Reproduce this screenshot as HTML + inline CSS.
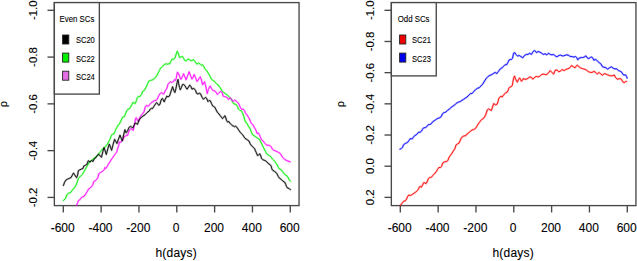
<!DOCTYPE html>
<html><head><meta charset="utf-8"><style>
html,body{margin:0;padding:0;background:#fff;width:637px;height:261px;overflow:hidden}
svg{display:block}
.t{font-family:"Liberation Sans",sans-serif;font-size:12px;fill:#000;stroke:#000;stroke-width:0.1px}
.l{font-family:"Liberation Sans",sans-serif;font-size:8.6px;fill:#000;stroke:#000;stroke-width:0.1px}
</style></head><body>
<svg width="637" height="261" viewBox="0 0 637 261">
<rect width="637" height="261" fill="#fff"/>
<rect x="54.35" y="2.6" width="244.7" height="203.0" fill="none" stroke="#484848" stroke-width="1.35"/>
<line x1="47.5" y1="10.3" x2="54.35" y2="10.3" stroke="#484848" stroke-width="1.35"/>
<text class="t" style="font-size:11.4px" x="0" y="0" transform="translate(37.4,10.30) rotate(-90)" text-anchor="middle">-1.0</text>
<line x1="47.5" y1="57.08" x2="54.35" y2="57.08" stroke="#484848" stroke-width="1.35"/>
<text class="t" style="font-size:11.4px" x="0" y="0" transform="translate(37.4,57.08) rotate(-90)" text-anchor="middle">-0.8</text>
<line x1="47.5" y1="103.86" x2="54.35" y2="103.86" stroke="#484848" stroke-width="1.35"/>
<text class="t" style="font-size:11.4px" x="0" y="0" transform="translate(37.4,103.86) rotate(-90)" text-anchor="middle">-0.6</text>
<line x1="47.5" y1="150.64000000000001" x2="54.35" y2="150.64000000000001" stroke="#484848" stroke-width="1.35"/>
<text class="t" style="font-size:11.4px" x="0" y="0" transform="translate(37.4,150.64) rotate(-90)" text-anchor="middle">-0.4</text>
<line x1="47.5" y1="197.42000000000002" x2="54.35" y2="197.42000000000002" stroke="#484848" stroke-width="1.35"/>
<text class="t" style="font-size:11.4px" x="0" y="0" transform="translate(37.4,197.42) rotate(-90)" text-anchor="middle">-0.2</text>
<line x1="63.30" y1="205.6" x2="63.30" y2="212.5" stroke="#484848" stroke-width="1.35"/>
<text class="t" x="62.70" y="231.5" text-anchor="middle">-600</text>
<line x1="101.13" y1="205.6" x2="101.13" y2="212.5" stroke="#484848" stroke-width="1.35"/>
<text class="t" x="100.53" y="231.5" text-anchor="middle">-400</text>
<line x1="138.96" y1="205.6" x2="138.96" y2="212.5" stroke="#484848" stroke-width="1.35"/>
<text class="t" x="138.36" y="231.5" text-anchor="middle">-200</text>
<line x1="176.79" y1="205.6" x2="176.79" y2="212.5" stroke="#484848" stroke-width="1.35"/>
<text class="t" x="176.19" y="231.5" text-anchor="middle">0</text>
<line x1="214.62" y1="205.6" x2="214.62" y2="212.5" stroke="#484848" stroke-width="1.35"/>
<text class="t" x="214.02" y="231.5" text-anchor="middle">200</text>
<line x1="252.45" y1="205.6" x2="252.45" y2="212.5" stroke="#484848" stroke-width="1.35"/>
<text class="t" x="251.85" y="231.5" text-anchor="middle">400</text>
<line x1="290.28" y1="205.6" x2="290.28" y2="212.5" stroke="#484848" stroke-width="1.35"/>
<text class="t" x="289.68" y="231.5" text-anchor="middle">600</text>
<text class="t" style="font-size:11px" transform="translate(7.2,104.0) rotate(-90)" text-anchor="middle">&#961;</text>
<text class="t" style="letter-spacing:0.2px" x="176.2" y="257.2" text-anchor="middle">h(days)</text>
<g>
<path d="M63.4,200.5 L65.4,198.6 L66.9,194.8 L68.4,193.3 L70.7,192.5 L72.3,190.1 L74.5,187.7 L76.1,185.0 L77.2,182.0 L78.4,178.5 L79.9,176.9 L82.2,174.6 L83.7,172.3 L85.3,169.3 L86.8,166.5 L88.3,164.0 L90.0,161.5 L91.5,160.5 L93.8,158.4 L96.1,156.8 L98.2,154.8 L100.5,151.5 L102.6,149.0 L104.9,147.4 L107.2,144.3 L110.0,139.3 L111.1,136.3 L112.3,134.3 L113.8,134.0 L115.0,131.7 L115.7,129.4 L116.9,127.4 L118.0,125.1 L119.2,124.4 L121.9,118.8 L122.6,117.3 L124.3,116.7 L125.5,113.9 L126.6,111.0 L127.8,109.3 L129.5,108.7 L130.6,107.0 L131.8,104.7 L132.9,102.4 L134.0,103.0 L135.2,103.5 L136.4,100.6 L137.0,98.3 L138.1,96.6 L139.8,96.6 L141.6,94.3 L142.7,91.4 L144.4,90.3 L146.1,87.3 L147.3,84.4 L149.0,81.0 L150.7,80.4 L152.5,79.8 L154.2,78.7 L155.9,77.0 L157.1,75.2 L158.2,72.9 L159.4,70.6 L160.5,68.3 L162.2,66.6 L164.0,64.9 L165.7,63.7 L167.4,64.3 L168.0,63.8 L169.7,63.8 L170.9,61.5 L172.0,59.2 L173.7,59.2 L174.9,58.1 L176.0,54.6 L177.2,51.2 L178.3,53.5 L179.5,57.5 L181.2,56.9 L182.4,56.4 L183.5,58.1 L184.7,60.4 L185.8,61.0 L187.0,59.8 L188.7,59.2 L190.0,60.2 L191.7,60.7 L193.4,59.6 L195.2,61.9 L196.9,64.2 L198.6,63.0 L200.3,64.2 L201.5,65.3 L202.6,64.8 L203.8,66.5 L204.9,68.8 L206.7,70.5 L208.4,73.4 L210.1,76.3 L211.3,79.1 L212.2,79.8 L213.3,80.6 L214.5,81.4 L215.6,82.9 L216.8,84.0 L218.2,85.0 L220.3,88.0 L222.1,90.9 L223.8,92.6 L225.5,93.8 L227.2,94.9 L229.0,96.7 L230.0,97.7 L231.1,98.9 L232.3,101.2 L233.4,103.5 L234.6,104.0 L236.3,104.6 L237.5,106.9 L238.6,109.2 L239.8,110.4 L241.5,110.9 L242.6,113.2 L243.8,116.1 L245.0,120.9 L246.7,123.2 L248.4,126.0 L250.2,128.9 L251.3,131.8 L252.5,134.7 L254.2,135.8 L255.9,137.0 L257.6,138.1 L259.4,139.3 L260.9,142.3 L262.1,144.6 L263.2,146.9 L264.4,149.2 L265.5,151.5 L266.7,153.8 L267.8,154.9 L269.5,155.5 L271.3,157.2 L272.4,159.0 L273.6,160.1 L274.7,161.3 L275.9,163.0 L277.2,165.0 L278.3,167.3 L279.5,169.0 L281.2,169.6 L282.4,171.3 L283.5,173.0 L285.2,174.8 L287.0,175.9 L288.1,177.6 L289.3,179.9 L290.4,181.1" fill="none" stroke="#00ee00" stroke-opacity="0.3" stroke-width="2.0" stroke-linejoin="round" stroke-linecap="round"/>
<path d="M63.4,200.5 L65.4,198.6 L66.9,194.8 L68.4,193.3 L70.7,192.5 L72.3,190.1 L74.5,187.7 L76.1,185.0 L77.2,182.0 L78.4,178.5 L79.9,176.9 L82.2,174.6 L83.7,172.3 L85.3,169.3 L86.8,166.5 L88.3,164.0 L90.0,161.5 L91.5,160.5 L93.8,158.4 L96.1,156.8 L98.2,154.8 L100.5,151.5 L102.6,149.0 L104.9,147.4 L107.2,144.3 L110.0,139.3 L111.1,136.3 L112.3,134.3 L113.8,134.0 L115.0,131.7 L115.7,129.4 L116.9,127.4 L118.0,125.1 L119.2,124.4 L121.9,118.8 L122.6,117.3 L124.3,116.7 L125.5,113.9 L126.6,111.0 L127.8,109.3 L129.5,108.7 L130.6,107.0 L131.8,104.7 L132.9,102.4 L134.0,103.0 L135.2,103.5 L136.4,100.6 L137.0,98.3 L138.1,96.6 L139.8,96.6 L141.6,94.3 L142.7,91.4 L144.4,90.3 L146.1,87.3 L147.3,84.4 L149.0,81.0 L150.7,80.4 L152.5,79.8 L154.2,78.7 L155.9,77.0 L157.1,75.2 L158.2,72.9 L159.4,70.6 L160.5,68.3 L162.2,66.6 L164.0,64.9 L165.7,63.7 L167.4,64.3 L168.0,63.8 L169.7,63.8 L170.9,61.5 L172.0,59.2 L173.7,59.2 L174.9,58.1 L176.0,54.6 L177.2,51.2 L178.3,53.5 L179.5,57.5 L181.2,56.9 L182.4,56.4 L183.5,58.1 L184.7,60.4 L185.8,61.0 L187.0,59.8 L188.7,59.2 L190.0,60.2 L191.7,60.7 L193.4,59.6 L195.2,61.9 L196.9,64.2 L198.6,63.0 L200.3,64.2 L201.5,65.3 L202.6,64.8 L203.8,66.5 L204.9,68.8 L206.7,70.5 L208.4,73.4 L210.1,76.3 L211.3,79.1 L212.2,79.8 L213.3,80.6 L214.5,81.4 L215.6,82.9 L216.8,84.0 L218.2,85.0 L220.3,88.0 L222.1,90.9 L223.8,92.6 L225.5,93.8 L227.2,94.9 L229.0,96.7 L230.0,97.7 L231.1,98.9 L232.3,101.2 L233.4,103.5 L234.6,104.0 L236.3,104.6 L237.5,106.9 L238.6,109.2 L239.8,110.4 L241.5,110.9 L242.6,113.2 L243.8,116.1 L245.0,120.9 L246.7,123.2 L248.4,126.0 L250.2,128.9 L251.3,131.8 L252.5,134.7 L254.2,135.8 L255.9,137.0 L257.6,138.1 L259.4,139.3 L260.9,142.3 L262.1,144.6 L263.2,146.9 L264.4,149.2 L265.5,151.5 L266.7,153.8 L267.8,154.9 L269.5,155.5 L271.3,157.2 L272.4,159.0 L273.6,160.1 L274.7,161.3 L275.9,163.0 L277.2,165.0 L278.3,167.3 L279.5,169.0 L281.2,169.6 L282.4,171.3 L283.5,173.0 L285.2,174.8 L287.0,175.9 L288.1,177.6 L289.3,179.9 L290.4,181.1" fill="none" stroke="#00ee00" stroke-opacity="0.85" stroke-width="1.0" stroke-linejoin="round" stroke-linecap="round"/>
<path d="M76.6,205.2 L77.6,202.8 L78.4,200.6 L79.8,199.8 L81.3,197.7 L82.7,196.9 L84.2,196.2 L85.6,194.0 L87.1,191.8 L88.6,188.9 L90.0,188.2 L91.5,186.7 L92.9,184.6 L93.7,181.6 L95.1,180.9 L96.6,179.5 L98.0,177.3 L98.8,173.7 L100.8,172.3 L102.9,171.0 L104.3,169.6 L104.9,167.5 L105.8,168.5 L107.0,166.8 L108.4,164.1 L109.8,162.0 L111.1,159.9 L112.5,157.9 L113.9,155.8 L115.3,153.8 L116.6,152.4 L117.3,149.6 L118.0,147.6 L118.7,145.5 L119.2,142.0 L120.7,142.4 L121.9,140.5 L123.0,139.7 L124.2,136.6 L125.3,136.3 L126.5,135.1 L127.6,135.5 L128.8,131.7 L129.8,130.0 L131.0,128.5 L132.2,129.5 L133.3,130.4 L134.2,126.0 L134.8,122.7 L135.6,118.5 L136.3,117.7 L137.5,120.4 L138.3,121.2 L139.4,118.5 L140.6,116.2 L141.7,114.7 L142.9,113.1 L144.0,112.0 L145.2,107.0 L146.9,105.2 L148.0,106.4 L149.2,105.2 L150.5,103.5 L151.5,102.6 L153.1,101.5 L154.6,100.7 L156.1,100.3 L157.3,99.2 L158.0,97.3 L158.8,95.7 L160.0,93.8 L161.1,92.7 L162.3,93.1 L163.4,94.2 L164.2,93.1 L164.9,91.5 L165.7,90.0 L167.0,88.0 L168.0,84.2 L169.5,82.7 L170.3,81.7 L171.5,82.5 L172.6,82.1 L173.7,81.0 L174.5,79.6 L175.4,80.5 L176.2,78.3 L177.4,72.1 L178.5,73.5 L179.7,76.7 L180.8,79.4 L182.0,77.5 L183.6,73.7 L184.8,76.7 L186.1,79.8 L187.5,76.0 L189.2,71.7 L190.4,75.2 L191.9,79.1 L193.1,77.2 L194.2,74.5 L195.4,77.2 L196.9,81.4 L198.0,80.6 L199.1,78.3 L200.3,76.8 L201.4,79.8 L202.6,84.8 L203.7,82.9 L204.5,81.7 L205.7,86.0 L207.2,93.6 L208.3,89.8 L209.5,86.7 L210.3,86.0 L211.4,88.3 L212.6,90.2 L213.7,90.6 L214.9,91.0 L216.0,92.1 L217.2,94.4 L218.3,93.5 L219.2,92.6 L220.9,91.5 L222.1,92.6 L223.2,96.1 L224.9,96.7 L226.7,97.2 L228.4,99.5 L230.0,97.8 L231.5,99.2 L232.5,101.0 L233.4,101.2 L234.6,100.0 L236.3,101.2 L238.0,102.9 L239.2,104.6 L240.3,107.5 L241.5,109.2 L243.2,109.2 L244.4,110.4 L245.5,113.2 L247.2,115.0 L248.4,117.3 L249.0,118.0 L250.2,120.9 L251.3,123.2 L253.0,124.9 L254.2,127.2 L255.9,130.1 L257.1,133.5 L258.2,132.9 L259.4,134.7 L260.5,137.5 L261.7,139.8 L263.2,141.1 L264.9,143.4 L266.7,145.2 L268.4,145.2 L270.1,145.7 L271.3,146.9 L272.4,149.2 L273.6,150.3 L275.3,150.9 L277.0,151.5 L278.7,152.6 L280.0,153.2 L282.5,157.2 L284.8,159.5 L287.1,160.7 L290.1,161.8" fill="none" stroke="#ff00ff" stroke-opacity="0.3" stroke-width="2.0" stroke-linejoin="round" stroke-linecap="round"/>
<path d="M76.6,205.2 L77.6,202.8 L78.4,200.6 L79.8,199.8 L81.3,197.7 L82.7,196.9 L84.2,196.2 L85.6,194.0 L87.1,191.8 L88.6,188.9 L90.0,188.2 L91.5,186.7 L92.9,184.6 L93.7,181.6 L95.1,180.9 L96.6,179.5 L98.0,177.3 L98.8,173.7 L100.8,172.3 L102.9,171.0 L104.3,169.6 L104.9,167.5 L105.8,168.5 L107.0,166.8 L108.4,164.1 L109.8,162.0 L111.1,159.9 L112.5,157.9 L113.9,155.8 L115.3,153.8 L116.6,152.4 L117.3,149.6 L118.0,147.6 L118.7,145.5 L119.2,142.0 L120.7,142.4 L121.9,140.5 L123.0,139.7 L124.2,136.6 L125.3,136.3 L126.5,135.1 L127.6,135.5 L128.8,131.7 L129.8,130.0 L131.0,128.5 L132.2,129.5 L133.3,130.4 L134.2,126.0 L134.8,122.7 L135.6,118.5 L136.3,117.7 L137.5,120.4 L138.3,121.2 L139.4,118.5 L140.6,116.2 L141.7,114.7 L142.9,113.1 L144.0,112.0 L145.2,107.0 L146.9,105.2 L148.0,106.4 L149.2,105.2 L150.5,103.5 L151.5,102.6 L153.1,101.5 L154.6,100.7 L156.1,100.3 L157.3,99.2 L158.0,97.3 L158.8,95.7 L160.0,93.8 L161.1,92.7 L162.3,93.1 L163.4,94.2 L164.2,93.1 L164.9,91.5 L165.7,90.0 L167.0,88.0 L168.0,84.2 L169.5,82.7 L170.3,81.7 L171.5,82.5 L172.6,82.1 L173.7,81.0 L174.5,79.6 L175.4,80.5 L176.2,78.3 L177.4,72.1 L178.5,73.5 L179.7,76.7 L180.8,79.4 L182.0,77.5 L183.6,73.7 L184.8,76.7 L186.1,79.8 L187.5,76.0 L189.2,71.7 L190.4,75.2 L191.9,79.1 L193.1,77.2 L194.2,74.5 L195.4,77.2 L196.9,81.4 L198.0,80.6 L199.1,78.3 L200.3,76.8 L201.4,79.8 L202.6,84.8 L203.7,82.9 L204.5,81.7 L205.7,86.0 L207.2,93.6 L208.3,89.8 L209.5,86.7 L210.3,86.0 L211.4,88.3 L212.6,90.2 L213.7,90.6 L214.9,91.0 L216.0,92.1 L217.2,94.4 L218.3,93.5 L219.2,92.6 L220.9,91.5 L222.1,92.6 L223.2,96.1 L224.9,96.7 L226.7,97.2 L228.4,99.5 L230.0,97.8 L231.5,99.2 L232.5,101.0 L233.4,101.2 L234.6,100.0 L236.3,101.2 L238.0,102.9 L239.2,104.6 L240.3,107.5 L241.5,109.2 L243.2,109.2 L244.4,110.4 L245.5,113.2 L247.2,115.0 L248.4,117.3 L249.0,118.0 L250.2,120.9 L251.3,123.2 L253.0,124.9 L254.2,127.2 L255.9,130.1 L257.1,133.5 L258.2,132.9 L259.4,134.7 L260.5,137.5 L261.7,139.8 L263.2,141.1 L264.9,143.4 L266.7,145.2 L268.4,145.2 L270.1,145.7 L271.3,146.9 L272.4,149.2 L273.6,150.3 L275.3,150.9 L277.0,151.5 L278.7,152.6 L280.0,153.2 L282.5,157.2 L284.8,159.5 L287.1,160.7 L290.1,161.8" fill="none" stroke="#ff00ff" stroke-opacity="0.85" stroke-width="1.0" stroke-linejoin="round" stroke-linecap="round"/>
<path d="M63.4,185.5 L64.6,182.2 L66.1,179.9 L67.7,179.1 L69.2,178.3 L70.7,177.9 L72.3,175.3 L73.5,173.0 L74.5,174.5 L76.5,177.6 L77.6,175.3 L78.4,170.7 L79.6,169.9 L81.4,169.1 L83.0,168.4 L83.7,166.1 L85.3,165.3 L86.8,164.5 L88.3,160.7 L90.0,162.0 L91.5,160.5 L93.0,161.5 L94.5,158.5 L96.0,157.5 L97.3,155.5 L98.6,154.1 L100.0,155.8 L101.5,157.2 L102.8,151.8 L104.0,147.6 L105.2,151.0 L106.3,154.5 L107.8,148.8 L109.3,144.1 L110.5,147.2 L111.6,150.3 L113.1,144.5 L114.6,139.3 L115.8,141.5 L116.9,143.5 L118.5,139.0 L120.0,135.1 L121.2,138.3 L122.3,141.0 L123.6,135.0 L124.9,129.7 L126.1,132.8 L127.5,131.0 L129.1,127.3 L130.6,126.2 L131.7,127.3 L132.9,127.7 L134.0,125.4 L135.2,123.1 L136.3,123.5 L137.5,124.3 L138.3,122.0 L139.4,119.7 L140.6,118.1 L141.7,117.0 L142.9,116.2 L144.0,115.4 L145.2,114.7 L146.9,112.7 L149.2,111.0 L150.3,109.0 L151.5,108.3 L152.5,108.6 L153.8,106.5 L155.4,104.2 L156.5,102.6 L157.5,103.5 L158.8,105.3 L160.0,104.2 L161.1,100.0 L162.3,98.4 L163.3,100.0 L164.2,101.9 L165.3,99.2 L166.9,96.1 L168.0,96.9 L169.5,96.0 L170.3,93.6 L171.4,90.2 L172.6,86.7 L173.7,90.2 L174.9,92.5 L176.0,88.3 L177.2,82.1 L178.0,79.4 L178.7,83.7 L179.5,87.5 L180.3,89.8 L181.4,87.5 L182.6,84.4 L183.7,84.5 L184.9,85.6 L186.0,87.8 L187.1,89.2 L188.6,86.9 L189.7,85.0 L190.9,86.5 L192.0,89.2 L193.2,88.4 L194.3,88.8 L195.5,90.3 L196.6,93.4 L198.0,94.0 L199.5,93.2 L200.4,93.6 L201.1,95.1 L202.3,97.7 L203.4,99.3 L204.6,98.1 L205.7,97.4 L206.9,98.9 L208.0,101.6 L209.2,100.4 L210.3,100.8 L211.5,103.5 L212.6,105.8 L213.8,106.6 L214.9,107.3 L216.7,111.1 L217.9,112.9 L219.0,114.0 L220.2,115.7 L221.3,116.9 L222.5,118.6 L223.6,117.5 L224.8,115.7 L225.9,118.0 L226.5,120.3 L227.6,122.1 L228.8,121.5 L229.9,123.2 L231.1,124.4 L232.2,125.5 L233.4,126.1 L234.5,126.7 L235.7,126.1 L236.8,127.2 L238.0,129.0 L239.1,130.7 L240.3,132.4 L241.4,133.6 L242.6,134.7 L243.7,136.4 L245.0,138.3 L247.3,139.8 L249.0,141.0 L250.0,143.4 L251.1,145.2 L252.3,146.3 L253.4,147.5 L254.6,148.6 L255.2,150.3 L256.3,152.6 L257.5,155.5 L258.6,154.9 L259.8,153.8 L260.9,156.1 L261.5,158.4 L262.6,159.5 L263.8,160.1 L265.5,160.7 L266.7,161.8 L267.8,163.0 L269.0,164.1 L270.1,164.7 L271.3,166.4 L271.8,168.7 L272.6,170.2 L274.3,171.3 L276.0,172.5 L277.2,174.2 L278.3,176.5 L279.5,178.2 L281.2,179.4 L282.9,181.1 L284.7,182.2 L285.8,184.5 L286.4,186.3 L287.5,188.0 L289.3,188.6 L290.4,189.7" fill="none" stroke="#000" stroke-opacity="0.3" stroke-width="2.0" stroke-linejoin="round" stroke-linecap="round"/>
<path d="M63.4,185.5 L64.6,182.2 L66.1,179.9 L67.7,179.1 L69.2,178.3 L70.7,177.9 L72.3,175.3 L73.5,173.0 L74.5,174.5 L76.5,177.6 L77.6,175.3 L78.4,170.7 L79.6,169.9 L81.4,169.1 L83.0,168.4 L83.7,166.1 L85.3,165.3 L86.8,164.5 L88.3,160.7 L90.0,162.0 L91.5,160.5 L93.0,161.5 L94.5,158.5 L96.0,157.5 L97.3,155.5 L98.6,154.1 L100.0,155.8 L101.5,157.2 L102.8,151.8 L104.0,147.6 L105.2,151.0 L106.3,154.5 L107.8,148.8 L109.3,144.1 L110.5,147.2 L111.6,150.3 L113.1,144.5 L114.6,139.3 L115.8,141.5 L116.9,143.5 L118.5,139.0 L120.0,135.1 L121.2,138.3 L122.3,141.0 L123.6,135.0 L124.9,129.7 L126.1,132.8 L127.5,131.0 L129.1,127.3 L130.6,126.2 L131.7,127.3 L132.9,127.7 L134.0,125.4 L135.2,123.1 L136.3,123.5 L137.5,124.3 L138.3,122.0 L139.4,119.7 L140.6,118.1 L141.7,117.0 L142.9,116.2 L144.0,115.4 L145.2,114.7 L146.9,112.7 L149.2,111.0 L150.3,109.0 L151.5,108.3 L152.5,108.6 L153.8,106.5 L155.4,104.2 L156.5,102.6 L157.5,103.5 L158.8,105.3 L160.0,104.2 L161.1,100.0 L162.3,98.4 L163.3,100.0 L164.2,101.9 L165.3,99.2 L166.9,96.1 L168.0,96.9 L169.5,96.0 L170.3,93.6 L171.4,90.2 L172.6,86.7 L173.7,90.2 L174.9,92.5 L176.0,88.3 L177.2,82.1 L178.0,79.4 L178.7,83.7 L179.5,87.5 L180.3,89.8 L181.4,87.5 L182.6,84.4 L183.7,84.5 L184.9,85.6 L186.0,87.8 L187.1,89.2 L188.6,86.9 L189.7,85.0 L190.9,86.5 L192.0,89.2 L193.2,88.4 L194.3,88.8 L195.5,90.3 L196.6,93.4 L198.0,94.0 L199.5,93.2 L200.4,93.6 L201.1,95.1 L202.3,97.7 L203.4,99.3 L204.6,98.1 L205.7,97.4 L206.9,98.9 L208.0,101.6 L209.2,100.4 L210.3,100.8 L211.5,103.5 L212.6,105.8 L213.8,106.6 L214.9,107.3 L216.7,111.1 L217.9,112.9 L219.0,114.0 L220.2,115.7 L221.3,116.9 L222.5,118.6 L223.6,117.5 L224.8,115.7 L225.9,118.0 L226.5,120.3 L227.6,122.1 L228.8,121.5 L229.9,123.2 L231.1,124.4 L232.2,125.5 L233.4,126.1 L234.5,126.7 L235.7,126.1 L236.8,127.2 L238.0,129.0 L239.1,130.7 L240.3,132.4 L241.4,133.6 L242.6,134.7 L243.7,136.4 L245.0,138.3 L247.3,139.8 L249.0,141.0 L250.0,143.4 L251.1,145.2 L252.3,146.3 L253.4,147.5 L254.6,148.6 L255.2,150.3 L256.3,152.6 L257.5,155.5 L258.6,154.9 L259.8,153.8 L260.9,156.1 L261.5,158.4 L262.6,159.5 L263.8,160.1 L265.5,160.7 L266.7,161.8 L267.8,163.0 L269.0,164.1 L270.1,164.7 L271.3,166.4 L271.8,168.7 L272.6,170.2 L274.3,171.3 L276.0,172.5 L277.2,174.2 L278.3,176.5 L279.5,178.2 L281.2,179.4 L282.9,181.1 L284.7,182.2 L285.8,184.5 L286.4,186.3 L287.5,188.0 L289.3,188.6 L290.4,189.7" fill="none" stroke="#000" stroke-opacity="0.85" stroke-width="1.0" stroke-linejoin="round" stroke-linecap="round"/>
</g>
<rect x="54.35" y="2.6" width="45.0" height="91.5" fill="#fff" stroke="#484848" stroke-width="1.35"/>
<text class="l" transform="translate(59.6,21.7) scale(0.91,1)">Even SCs</text>
<rect x="62.6" y="35.0" width="6.2" height="9.0" fill="#000" stroke="#222" stroke-width="0.9"/>
<text class="l" transform="translate(75.9,43.4) scale(0.88,1)">SC20</text>
<rect x="62.6" y="53.1" width="6.2" height="9.0" fill="#00f000" stroke="#222" stroke-width="0.9"/>
<text class="l" transform="translate(75.9,61.5) scale(0.88,1)">SC22</text>
<rect x="62.6" y="71.2" width="6.2" height="9.0" fill="#e46ee4" stroke="#222" stroke-width="0.9"/>
<text class="l" transform="translate(75.9,79.6) scale(0.88,1)">SC24</text>
<rect x="391.35" y="2.6" width="244.6" height="203.0" fill="none" stroke="#484848" stroke-width="1.35"/>
<line x1="384.5" y1="10.3" x2="391.35" y2="10.3" stroke="#484848" stroke-width="1.35"/>
<text class="t" style="font-size:11.4px" x="0" y="0" transform="translate(374.4,10.30) rotate(-90)" text-anchor="middle">-1.0</text>
<line x1="384.5" y1="41.480000000000004" x2="391.35" y2="41.480000000000004" stroke="#484848" stroke-width="1.35"/>
<text class="t" style="font-size:11.4px" x="0" y="0" transform="translate(374.4,41.48) rotate(-90)" text-anchor="middle">-0.8</text>
<line x1="384.5" y1="72.66" x2="391.35" y2="72.66" stroke="#484848" stroke-width="1.35"/>
<text class="t" style="font-size:11.4px" x="0" y="0" transform="translate(374.4,72.66) rotate(-90)" text-anchor="middle">-0.6</text>
<line x1="384.5" y1="103.83999999999999" x2="391.35" y2="103.83999999999999" stroke="#484848" stroke-width="1.35"/>
<text class="t" style="font-size:11.4px" x="0" y="0" transform="translate(374.4,103.84) rotate(-90)" text-anchor="middle">-0.4</text>
<line x1="384.5" y1="135.02" x2="391.35" y2="135.02" stroke="#484848" stroke-width="1.35"/>
<text class="t" style="font-size:11.4px" x="0" y="0" transform="translate(374.4,135.02) rotate(-90)" text-anchor="middle">-0.2</text>
<line x1="384.5" y1="166.20000000000002" x2="391.35" y2="166.20000000000002" stroke="#484848" stroke-width="1.35"/>
<text class="t" style="font-size:11.4px" x="0" y="0" transform="translate(374.4,166.20) rotate(-90)" text-anchor="middle">0.0</text>
<line x1="384.5" y1="197.38" x2="391.35" y2="197.38" stroke="#484848" stroke-width="1.35"/>
<text class="t" style="font-size:11.4px" x="0" y="0" transform="translate(374.4,197.38) rotate(-90)" text-anchor="middle">0.2</text>
<line x1="400.30" y1="205.6" x2="400.30" y2="212.5" stroke="#484848" stroke-width="1.35"/>
<text class="t" x="399.70" y="231.5" text-anchor="middle">-600</text>
<line x1="438.13" y1="205.6" x2="438.13" y2="212.5" stroke="#484848" stroke-width="1.35"/>
<text class="t" x="437.53" y="231.5" text-anchor="middle">-400</text>
<line x1="475.96" y1="205.6" x2="475.96" y2="212.5" stroke="#484848" stroke-width="1.35"/>
<text class="t" x="475.36" y="231.5" text-anchor="middle">-200</text>
<line x1="513.79" y1="205.6" x2="513.79" y2="212.5" stroke="#484848" stroke-width="1.35"/>
<text class="t" x="513.19" y="231.5" text-anchor="middle">0</text>
<line x1="551.62" y1="205.6" x2="551.62" y2="212.5" stroke="#484848" stroke-width="1.35"/>
<text class="t" x="551.02" y="231.5" text-anchor="middle">200</text>
<line x1="589.45" y1="205.6" x2="589.45" y2="212.5" stroke="#484848" stroke-width="1.35"/>
<text class="t" x="588.85" y="231.5" text-anchor="middle">400</text>
<line x1="627.28" y1="205.6" x2="627.28" y2="212.5" stroke="#484848" stroke-width="1.35"/>
<text class="t" x="626.68" y="231.5" text-anchor="middle">600</text>
<text class="t" style="font-size:11px" transform="translate(344.2,104.0) rotate(-90)" text-anchor="middle">&#961;</text>
<text class="t" style="letter-spacing:0.2px" x="513.2" y="257.2" text-anchor="middle">h(days)</text>
<g>
<path d="M400.3,205.3 L401.4,204.2 L402.6,202.4 L403.7,201.3 L405.5,200.7 L406.6,199.0 L407.8,196.1 L408.9,195.0 L410.6,195.5 L412.4,194.4 L414.1,193.2 L415.8,192.1 L417.5,190.4 L418.7,188.6 L419.1,187.2 L420.3,186.4 L421.4,187.2 L422.6,185.0 L423.7,182.6 L424.9,182.9 L426.0,183.7 L427.2,181.8 L428.3,178.7 L429.5,177.6 L430.6,177.6 L431.8,176.8 L432.9,175.3 L434.1,174.1 L435.2,173.0 L436.4,171.4 L437.5,169.5 L438.8,167.5 L440.5,167.5 L441.5,166.5 L442.8,162.9 L444.5,161.8 L446.3,161.6 L447.2,161.2 L448.0,160.1 L449.1,157.2 L450.3,155.5 L452.0,153.2 L453.7,150.3 L455.0,148.6 L456.0,145.0 L457.7,143.8 L458.9,143.3 L460.0,141.0 L461.2,138.1 L462.3,136.9 L464.1,135.8 L465.8,135.8 L466.9,134.1 L468.7,132.9 L470.4,131.2 L472.1,130.0 L473.8,129.5 L475.6,128.3 L476.7,126.6 L477.9,124.3 L479.6,122.3 L480.4,120.9 L482.2,119.1 L483.9,118.0 L485.6,115.1 L487.3,109.9 L488.5,108.8 L490.2,109.9 L491.4,110.5 L492.5,107.1 L493.7,103.6 L495.4,104.8 L497.1,104.2 L498.0,101.5 L498.8,98.5 L500.0,97.0 L501.1,96.2 L502.3,96.9 L503.4,95.4 L504.6,93.9 L505.7,92.7 L506.9,92.3 L508.0,90.8 L508.8,88.1 L509.5,87.4 L511.0,86.7 L512.3,85.5 L513.0,81.3 L513.8,77.5 L514.6,76.0 L515.3,78.3 L516.5,80.9 L517.3,82.1 L518.4,79.8 L519.6,77.9 L520.7,79.8 L521.5,81.3 L522.6,79.8 L523.0,78.7 L524.7,79.2 L526.4,79.2 L528.2,78.1 L529.9,76.9 L531.6,77.5 L532.8,79.2 L534.5,77.5 L536.2,76.4 L537.9,76.9 L539.7,76.4 L541.4,74.6 L543.1,74.1 L544.8,74.4 L546.7,74.7 L548.4,72.9 L550.2,70.6 L551.9,72.4 L553.6,74.1 L555.3,70.1 L557.1,70.1 L558.8,71.8 L560.5,71.0 L562.2,69.5 L564.0,70.6 L565.7,69.5 L567.4,68.9 L569.1,68.3 L570.3,67.2 L571.4,65.5 L573.2,66.6 L575.0,67.8 L576.1,66.3 L577.2,65.1 L579.0,66.8 L580.7,68.0 L582.4,68.6 L584.1,69.1 L585.9,69.7 L587.3,70.8 L588.7,71.8 L590.4,72.4 L592.2,72.4 L593.9,71.3 L595.6,72.4 L597.3,74.1 L599.1,72.4 L600.8,74.1 L602.5,75.3 L604.2,73.6 L606.0,74.1 L607.7,74.9 L609.4,75.5 L611.1,75.9 L612.9,75.5 L614.3,75.0 L615.6,77.5 L617.3,79.3 L619.1,78.7 L620.8,78.7 L622.0,80.4 L623.1,82.1 L624.2,82.7 L625.4,81.6 L626.5,81.6" fill="none" stroke="#ff0000" stroke-opacity="0.3" stroke-width="2.0" stroke-linejoin="round" stroke-linecap="round"/>
<path d="M400.3,205.3 L401.4,204.2 L402.6,202.4 L403.7,201.3 L405.5,200.7 L406.6,199.0 L407.8,196.1 L408.9,195.0 L410.6,195.5 L412.4,194.4 L414.1,193.2 L415.8,192.1 L417.5,190.4 L418.7,188.6 L419.1,187.2 L420.3,186.4 L421.4,187.2 L422.6,185.0 L423.7,182.6 L424.9,182.9 L426.0,183.7 L427.2,181.8 L428.3,178.7 L429.5,177.6 L430.6,177.6 L431.8,176.8 L432.9,175.3 L434.1,174.1 L435.2,173.0 L436.4,171.4 L437.5,169.5 L438.8,167.5 L440.5,167.5 L441.5,166.5 L442.8,162.9 L444.5,161.8 L446.3,161.6 L447.2,161.2 L448.0,160.1 L449.1,157.2 L450.3,155.5 L452.0,153.2 L453.7,150.3 L455.0,148.6 L456.0,145.0 L457.7,143.8 L458.9,143.3 L460.0,141.0 L461.2,138.1 L462.3,136.9 L464.1,135.8 L465.8,135.8 L466.9,134.1 L468.7,132.9 L470.4,131.2 L472.1,130.0 L473.8,129.5 L475.6,128.3 L476.7,126.6 L477.9,124.3 L479.6,122.3 L480.4,120.9 L482.2,119.1 L483.9,118.0 L485.6,115.1 L487.3,109.9 L488.5,108.8 L490.2,109.9 L491.4,110.5 L492.5,107.1 L493.7,103.6 L495.4,104.8 L497.1,104.2 L498.0,101.5 L498.8,98.5 L500.0,97.0 L501.1,96.2 L502.3,96.9 L503.4,95.4 L504.6,93.9 L505.7,92.7 L506.9,92.3 L508.0,90.8 L508.8,88.1 L509.5,87.4 L511.0,86.7 L512.3,85.5 L513.0,81.3 L513.8,77.5 L514.6,76.0 L515.3,78.3 L516.5,80.9 L517.3,82.1 L518.4,79.8 L519.6,77.9 L520.7,79.8 L521.5,81.3 L522.6,79.8 L523.0,78.7 L524.7,79.2 L526.4,79.2 L528.2,78.1 L529.9,76.9 L531.6,77.5 L532.8,79.2 L534.5,77.5 L536.2,76.4 L537.9,76.9 L539.7,76.4 L541.4,74.6 L543.1,74.1 L544.8,74.4 L546.7,74.7 L548.4,72.9 L550.2,70.6 L551.9,72.4 L553.6,74.1 L555.3,70.1 L557.1,70.1 L558.8,71.8 L560.5,71.0 L562.2,69.5 L564.0,70.6 L565.7,69.5 L567.4,68.9 L569.1,68.3 L570.3,67.2 L571.4,65.5 L573.2,66.6 L575.0,67.8 L576.1,66.3 L577.2,65.1 L579.0,66.8 L580.7,68.0 L582.4,68.6 L584.1,69.1 L585.9,69.7 L587.3,70.8 L588.7,71.8 L590.4,72.4 L592.2,72.4 L593.9,71.3 L595.6,72.4 L597.3,74.1 L599.1,72.4 L600.8,74.1 L602.5,75.3 L604.2,73.6 L606.0,74.1 L607.7,74.9 L609.4,75.5 L611.1,75.9 L612.9,75.5 L614.3,75.0 L615.6,77.5 L617.3,79.3 L619.1,78.7 L620.8,78.7 L622.0,80.4 L623.1,82.1 L624.2,82.7 L625.4,81.6 L626.5,81.6" fill="none" stroke="#ff0000" stroke-opacity="0.85" stroke-width="1.0" stroke-linejoin="round" stroke-linecap="round"/>
<path d="M400.0,149.2 L401.5,148.4 L402.6,147.3 L403.4,145.0 L404.2,144.2 L405.3,143.4 L406.5,143.0 L407.6,142.3 L408.8,140.7 L409.5,139.6 L410.0,138.8 L412.3,138.8 L413.4,137.2 L414.6,135.7 L416.1,134.9 L417.3,133.8 L418.4,132.3 L420.0,132.3 L421.5,131.1 L422.6,129.2 L423.8,127.7 L425.3,127.7 L426.5,126.9 L427.6,125.4 L428.8,124.5 L429.9,124.5 L431.4,123.6 L432.6,121.8 L434.3,120.7 L436.0,119.5 L437.8,118.4 L439.5,117.8 L441.2,116.7 L442.4,113.8 L444.1,112.6 L445.8,112.1 L447.5,110.3 L449.3,109.2 L451.0,107.5 L452.7,106.3 L454.4,105.2 L456.2,103.4 L458.4,102.1 L460.2,101.6 L461.9,100.4 L463.6,99.3 L465.3,98.1 L467.1,97.0 L468.8,95.2 L470.5,93.5 L472.2,93.5 L474.0,91.2 L475.7,89.5 L477.4,88.3 L479.1,87.8 L480.9,86.0 L482.6,84.3 L484.5,81.0 L486.4,78.2 L488.2,76.4 L489.9,75.3 L491.6,74.7 L493.3,73.6 L495.1,72.4 L496.8,73.6 L498.5,71.3 L500.2,69.0 L502.0,67.8 L503.7,66.1 L505.2,64.6 L506.7,64.7 L507.9,62.4 L509.0,60.1 L510.2,59.5 L511.3,59.5 L512.5,58.4 L513.6,53.2 L514.8,52.6 L515.9,54.4 L517.6,56.1 L519.4,55.5 L521.1,56.7 L522.8,57.8 L524.5,55.5 L526.3,54.4 L528.0,54.4 L529.7,53.2 L531.4,54.4 L533.2,51.5 L534.3,50.6 L535.3,51.0 L536.4,52.6 L538.2,51.5 L539.9,52.1 L541.6,53.2 L543.3,54.4 L545.1,53.8 L546.8,54.9 L548.5,53.2 L550.2,54.4 L552.0,54.9 L553.7,54.4 L555.4,56.1 L557.1,56.7 L558.9,55.5 L560.6,55.1 L562.3,55.9 L563.4,55.9 L565.2,55.3 L566.9,54.8 L568.6,55.3 L570.3,56.5 L572.1,56.5 L573.8,57.1 L575.5,56.5 L576.7,57.6 L577.8,59.9 L579.0,58.2 L580.7,57.6 L582.4,57.6 L584.1,57.1 L585.9,55.9 L587.6,58.2 L588.7,58.6 L590.4,57.5 L591.6,56.9 L592.7,58.0 L593.9,60.3 L595.6,59.2 L597.3,60.9 L599.1,62.6 L600.8,63.8 L602.5,66.7 L604.2,67.2 L606.0,67.8 L607.7,69.2 L609.4,67.8 L611.3,66.8 L613.3,68.3 L615.0,68.9 L616.8,68.9 L618.5,70.6 L620.2,71.2 L621.9,72.4 L623.1,74.7 L624.2,75.2 L625.4,74.7 L626.5,76.4 L627.1,78.1" fill="none" stroke="#0000ff" stroke-opacity="0.3" stroke-width="2.0" stroke-linejoin="round" stroke-linecap="round"/>
<path d="M400.0,149.2 L401.5,148.4 L402.6,147.3 L403.4,145.0 L404.2,144.2 L405.3,143.4 L406.5,143.0 L407.6,142.3 L408.8,140.7 L409.5,139.6 L410.0,138.8 L412.3,138.8 L413.4,137.2 L414.6,135.7 L416.1,134.9 L417.3,133.8 L418.4,132.3 L420.0,132.3 L421.5,131.1 L422.6,129.2 L423.8,127.7 L425.3,127.7 L426.5,126.9 L427.6,125.4 L428.8,124.5 L429.9,124.5 L431.4,123.6 L432.6,121.8 L434.3,120.7 L436.0,119.5 L437.8,118.4 L439.5,117.8 L441.2,116.7 L442.4,113.8 L444.1,112.6 L445.8,112.1 L447.5,110.3 L449.3,109.2 L451.0,107.5 L452.7,106.3 L454.4,105.2 L456.2,103.4 L458.4,102.1 L460.2,101.6 L461.9,100.4 L463.6,99.3 L465.3,98.1 L467.1,97.0 L468.8,95.2 L470.5,93.5 L472.2,93.5 L474.0,91.2 L475.7,89.5 L477.4,88.3 L479.1,87.8 L480.9,86.0 L482.6,84.3 L484.5,81.0 L486.4,78.2 L488.2,76.4 L489.9,75.3 L491.6,74.7 L493.3,73.6 L495.1,72.4 L496.8,73.6 L498.5,71.3 L500.2,69.0 L502.0,67.8 L503.7,66.1 L505.2,64.6 L506.7,64.7 L507.9,62.4 L509.0,60.1 L510.2,59.5 L511.3,59.5 L512.5,58.4 L513.6,53.2 L514.8,52.6 L515.9,54.4 L517.6,56.1 L519.4,55.5 L521.1,56.7 L522.8,57.8 L524.5,55.5 L526.3,54.4 L528.0,54.4 L529.7,53.2 L531.4,54.4 L533.2,51.5 L534.3,50.6 L535.3,51.0 L536.4,52.6 L538.2,51.5 L539.9,52.1 L541.6,53.2 L543.3,54.4 L545.1,53.8 L546.8,54.9 L548.5,53.2 L550.2,54.4 L552.0,54.9 L553.7,54.4 L555.4,56.1 L557.1,56.7 L558.9,55.5 L560.6,55.1 L562.3,55.9 L563.4,55.9 L565.2,55.3 L566.9,54.8 L568.6,55.3 L570.3,56.5 L572.1,56.5 L573.8,57.1 L575.5,56.5 L576.7,57.6 L577.8,59.9 L579.0,58.2 L580.7,57.6 L582.4,57.6 L584.1,57.1 L585.9,55.9 L587.6,58.2 L588.7,58.6 L590.4,57.5 L591.6,56.9 L592.7,58.0 L593.9,60.3 L595.6,59.2 L597.3,60.9 L599.1,62.6 L600.8,63.8 L602.5,66.7 L604.2,67.2 L606.0,67.8 L607.7,69.2 L609.4,67.8 L611.3,66.8 L613.3,68.3 L615.0,68.9 L616.8,68.9 L618.5,70.6 L620.2,71.2 L621.9,72.4 L623.1,74.7 L624.2,75.2 L625.4,74.7 L626.5,76.4 L627.1,78.1" fill="none" stroke="#0000ff" stroke-opacity="0.85" stroke-width="1.0" stroke-linejoin="round" stroke-linecap="round"/>
</g>
<rect x="391.35" y="2.6" width="44.9" height="73.3" fill="#fff" stroke="#484848" stroke-width="1.35"/>
<text class="l" transform="translate(397.7,21.7) scale(0.91,1)">Odd SCs</text>
<rect x="399.6" y="35.0" width="6.2" height="9.0" fill="#f00000" stroke="#222" stroke-width="0.9"/>
<text class="l" transform="translate(412.0,43.4) scale(0.88,1)">SC21</text>
<rect x="399.6" y="53.1" width="6.2" height="9.0" fill="#0000f0" stroke="#222" stroke-width="0.9"/>
<text class="l" transform="translate(412.0,61.5) scale(0.88,1)">SC23</text>
</svg>
</body></html>
